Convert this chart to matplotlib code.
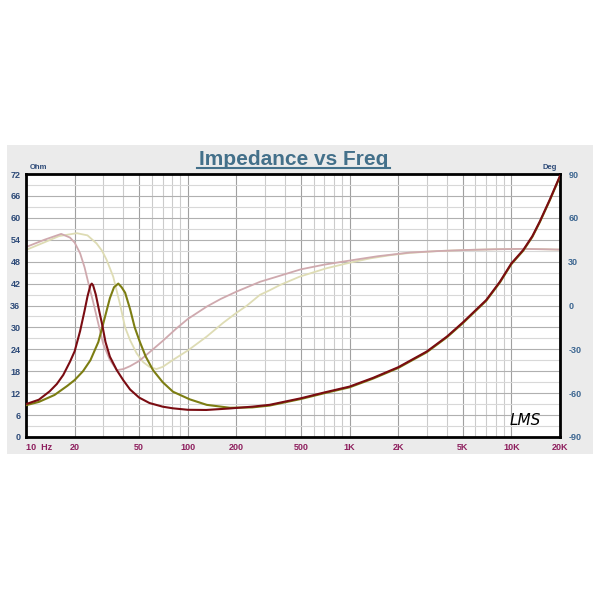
import matplotlib
matplotlib.use("Agg")
import matplotlib.pyplot as plt
from matplotlib.patches import Rectangle
from matplotlib.lines import Line2D
from matplotlib.ticker import FixedLocator, NullFormatter

plt.rcParams['font.family'] = ['Liberation Sans', 'DejaVu Sans']
plt.rcParams['axes.unicode_minus'] = False

# ---------------- data ----------------
# Impedance curve 1 (dark red), Ohm
f_imp1 = [10, 12, 14, 15.5, 17, 18.7, 20, 21.6, 23, 24, 25, 25.5, 26, 27, 28.5, 29.5,
          31, 33, 36.4, 40, 44, 50, 58, 70, 81, 100, 130, 180, 250, 320, 500, 700,
          1000, 1400, 2000, 3000, 4000, 5000, 7000, 8500, 10000, 11850, 13500, 15000,
          17300, 20000]
z_imp1 = [9.0, 10.2, 12.5, 14.5, 17.0, 20.6, 23.5, 29, 34.5, 38.5, 41.5, 42, 41.5, 39,
          34, 31, 26, 22, 18.3, 15.5, 13, 10.8, 9.3, 8.3, 7.85, 7.45, 7.4, 7.8, 8.3,
          8.8, 10.6, 12.2, 13.8, 16.2, 19.1, 23.4, 27.5, 31.3, 37.5, 42.5, 47.5, 51.2,
          55, 59, 65, 71.5]

# Impedance curve 2 (olive), Ohm
f_imp2 = [10, 12, 15, 18, 20, 22.5, 25, 28, 30, 33, 35, 37.2, 39, 41, 44, 47, 50.6, 55,
          61, 70, 81, 103, 131, 182, 250, 320, 500, 700, 1000, 1400, 2000, 3000, 4000,
          5000, 7000, 8500, 10000, 11850, 13500, 15000, 17300, 20000]
z_imp2 = [8.7, 9.6, 11.5, 14.0, 15.6, 18, 21, 26, 31, 38, 41, 42, 41, 39.5, 35, 30, 26,
          22, 18.3, 15, 12.4, 10.3, 8.8, 8.0, 8.1, 8.6, 10.4, 12.0, 13.6, 16.0, 18.9,
          23.2, 27.3, 31.1, 37.3, 42.3, 47.3, 51.0, 54.8, 58.8, 64.8, 71.3]

# Phase curve 1 (pink), degrees
f_ph1 = [10, 13, 16.5, 18.7, 20, 21.6, 23, 24.5, 26, 28, 30, 33, 36.4, 40, 44, 50, 58,
         70, 85, 100, 131, 160, 200, 280, 350, 500, 700, 1000, 1500, 2360, 3500, 5300,
         8000, 11800, 16000, 20000]
p_ph1 = [40.0, 45.0, 49.0, 46.5, 43.0, 35.75, 26.25, 13.75, 2.5, -12.5, -26.25, -37.25,
         -44.25, -43.5, -41.5, -38.0, -32.0, -24.25, -15.75, -9.25, -0.75, 4.5, 9.5,
         16.25, 19.5, 24.75, 28.0, 30.75, 33.75, 36.25, 37.25, 38.0, 38.5, 38.75, 38.5,
         38.25]

# Phase curve 2 (light yellow), degrees
f_ph2 = [10, 13, 16, 20.6, 24, 27.3, 29.5, 31.5, 34.6, 38, 41, 44, 48.3, 53, 58, 64, 70,
         81, 101, 131, 166, 200, 231, 279, 322, 371, 492, 721, 1000, 1340, 1800, 2360,
         3500, 5300, 8000, 11800, 16000, 20000]
p_ph2 = [38.0, 43.25, 47.5, 49.5, 48.0, 42.5, 37.5, 31.25, 19.75, 1.5, -15.0, -23.75,
         -32.75, -38.75, -42.0, -43.5, -42.0, -37.25, -30.5, -21.25, -11.75, -5.0, -0.25,
         7.25, 10.5, 14.0, 19.75, 25.5, 29.25, 32.25, 34.5, 36.0, 37.25, 38.0, 38.5,
         38.75, 38.5, 38.25]

ohm_ticks = [0, 6, 12, 18, 24, 30, 36, 42, 48, 54, 60, 66, 72]
deg_ticks = [-90, -60, -30, 0, 30, 60, 90]
x_ticks = [10, 20, 50, 100, 200, 500, 1000, 2000, 5000, 10000, 20000]
x_labels = ["10  Hz", "20", "50", "100", "200", "500", "1K", "2K", "5K", "10K", "20K"]

# ---------------- styling ----------------
c_imp1 = "#7a0c12"
c_imp2 = "#7c7d12"
c_ph1 = "#cfa9ae"
c_ph2 = "#dedcb4"
c_left = "#2d4a78"
c_bottom = "#8e1f5e"
c_title = "#43708a"

fig = plt.figure(figsize=(6, 6), dpi=100)
fig.patch.set_facecolor("white")
fig.patches.append(Rectangle((7/600, 1-454/600), 586/600, 309/600,
                             transform=fig.transFigure, facecolor="#ebebeb",
                             edgecolor="none", zorder=-10))

ax = fig.add_axes([26/600, 1-437/600, 534/600, 263/600])
ax.set_xscale("log")
ax.set_xlim(10, 20000)
ax.set_ylim(0, 72)

ax2 = ax.twinx()
ax2.set_ylim(-90, 90)

# impedance axes on top, phase axes (with white background) below
ax2.set_zorder(1)
ax.set_zorder(2)
ax.patch.set_visible(False)
ax2.patch.set_visible(True)
ax2.patch.set_facecolor("white")

# grid (drawn on the lower axes so it sits under every curve)
major_x = (10, 20, 50, 100, 200, 500, 1000, 2000, 5000, 10000, 20000)
minor_x = [m * 10**d for d in range(1, 5) for m in range(1, 10) if 10 <= m * 10**d <= 20000]
for xv in minor_x:
    ax2.axvline(xv, color="#a0a0a0" if xv in major_x else "#cbcbcb", lw=0.8, zorder=1)
for k in range(0, 25):
    yd = -90 + k * 7.5
    ax2.axhline(yd, color="#b0b0b0" if k % 2 == 0 else "#d8d8d8", lw=0.8, zorder=1)

ax.xaxis.set_major_locator(FixedLocator(x_ticks))
ax.xaxis.set_minor_locator(FixedLocator([]))
ax.xaxis.set_minor_formatter(NullFormatter())
ax.set_xticklabels(x_labels)
ax.set_yticks(ohm_ticks)
ax.tick_params(axis="both", length=0)
ax.tick_params(axis="x", pad=4, labelsize=6.5, labelcolor=c_bottom)
ax.tick_params(axis="y", pad=4, labelsize=6.5, labelcolor=c_left)
for lab in ax.get_xticklabels() + ax.get_yticklabels():
    lab.set_fontweight("bold")
ax.get_xticklabels()[0].set_horizontalalignment("left")

for s in ax.spines.values():
    s.set_linewidth(2.0)
    s.set_color("black")

ax2.set_yticks(deg_ticks)
ax2.tick_params(axis="y", length=0, pad=6, labelsize=6.5, labelcolor="#3b6590")
for lab in ax2.get_yticklabels():
    lab.set_fontweight("bold")
for s in ax2.spines.values():
    s.set_visible(False)

# curves: phases first (lower axes), then impedances
ax2.plot(f_ph2, p_ph2, color=c_ph2, lw=1.3, zorder=3)
ax2.plot(f_ph1, p_ph1, color=c_ph1, lw=1.3, zorder=4)
ax.plot(f_imp2, z_imp2, color=c_imp2, lw=1.5, zorder=5)
ax.plot(f_imp1, z_imp1, color=c_imp1, lw=1.5, zorder=6)

# axis unit labels
fig.text(30/600, 1-169/600, "Ohm", fontsize=5.5, fontweight="bold", color=c_left,
         ha="left", va="baseline")
fig.text(557/600, 1-169/600, "Deg", fontsize=5.5, fontweight="bold", color=c_left,
         ha="right", va="baseline")

# title with underline
fig.text(293.5/600, 1-165/600, "Impedance vs Freq", fontsize=15, fontweight="bold",
         color=c_title, ha="center", va="baseline")
fig.add_artist(Line2D([197/600, 390/600], [1-168.5/600, 1-168.5/600],
                      transform=fig.transFigure, color=c_title, lw=1.5))

# LMS signature
ax.text(0.965, 0.035, "LMS", transform=ax.transAxes, fontsize=11, fontstyle="italic",
        fontweight="light", family=["DejaVu Sans"], color="black", ha="right",
        va="bottom", zorder=12)

fig.savefig("out.png", dpi=100, facecolor="white")
